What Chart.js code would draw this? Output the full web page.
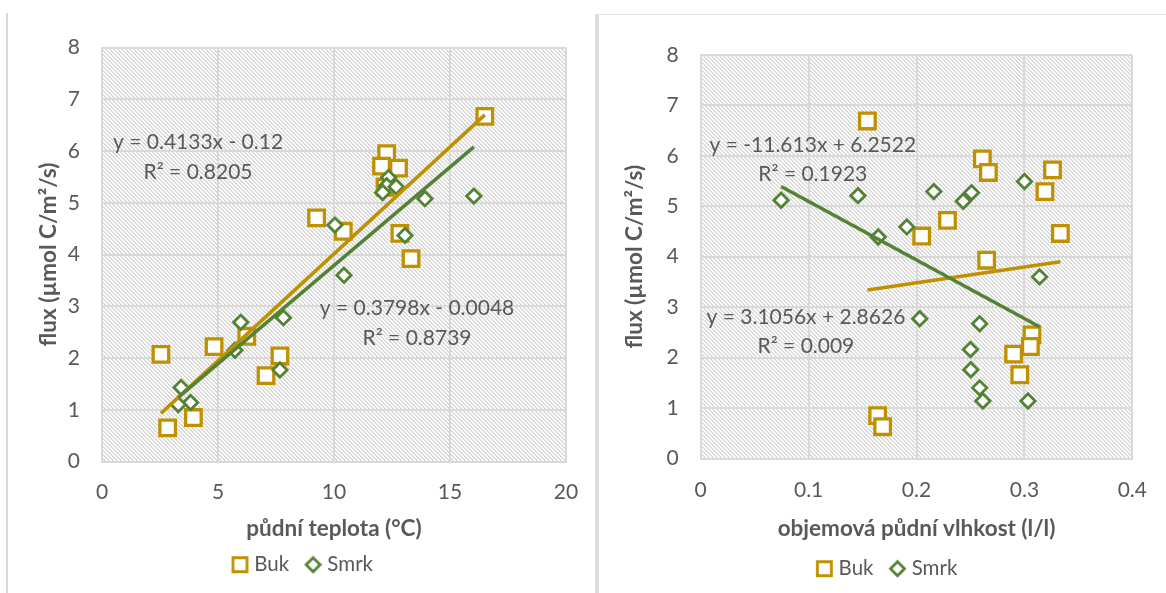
<!DOCTYPE html>
<html lang="cs">
<head>
<meta charset="utf-8">
<title>flux - půdní teplota a vlhkost</title>
<script src="https://cdn.jsdelivr.net/npm/chart.js"></script>
<style>
  body { margin: 0; background: #fff; width: 1166px; height: 593px; overflow: hidden; position: relative; }
  #ramecekTeplota { position: absolute; left: 6px; top: 13px; width: 2px; height: 580px; background: #d9d9d9; }
  #ramecekVlhkost { position: absolute; left: 595px; top: 14px; width: 571px; height: 579px; box-sizing: border-box; border-left: 4px solid #dcdcdc; border-top: 1px solid #e6e6e6; }
  canvas { position: absolute; }
  #grafTeplota { left: 9px; top: 13px; }
  #grafVlhkost { left: 601px; top: 14px; }
</style>
</head>
<body>
<div id="ramecekTeplota"></div>
<div id="ramecekVlhkost"></div>
<canvas id="grafTeplota" width="589" height="581"></canvas>
<canvas id="grafVlhkost" width="565" height="580"></canvas>
<script>
// půdní teplota (°C) x flux
const bukTeplotaX = [16.5, 12.27, 12.05, 12.78, 12.2, 9.25, 10.4, 12.84, 13.32, 2.54, 4.83, 6.24, 7.67, 7.07, 3.94, 2.83];
const bukTeplotaY = [6.67, 5.95, 5.71, 5.67, 5.3, 4.71, 4.45, 4.41, 3.92, 2.07, 2.22, 2.42, 2.04, 1.66, 0.85, 0.65];
const smrkTeplotaX = [12.35, 12.27, 12.68, 12.1, 13.92, 16.03, 10.04, 13.06, 10.43, 5.98, 7.82, 5.73, 7.67, 3.41, 3.82, 3.29];
const smrkTeplotaY = [5.49, 5.33, 5.31, 5.2, 5.08, 5.13, 4.57, 4.37, 3.6, 2.69, 2.78, 2.15, 1.77, 1.43, 1.14, 1.1];

// objemová půdní vlhkost (l/l) x flux
const bukVlhkostX = [0.1545, 0.261, 0.2666, 0.326, 0.319, 0.2287, 0.2048, 0.3333, 0.265, 0.307, 0.3055, 0.29, 0.2957, 0.164, 0.1686];
const bukVlhkostY = [6.69, 5.94, 5.67, 5.72, 5.29, 4.72, 4.41, 4.46, 3.93, 2.45, 2.22, 2.07, 1.66, 0.85, 0.63];
const smrkVlhkostX = [0.0745, 0.1457, 0.1645, 0.191, 0.216, 0.251, 0.2433, 0.3, 0.314, 0.203, 0.2585, 0.25, 0.2503, 0.2585, 0.2615, 0.3033];
const smrkVlhkostY = [5.12, 5.21, 4.39, 4.59, 5.29, 5.27, 5.1, 5.49, 3.6, 2.77, 2.67, 2.16, 1.76, 1.4, 1.14, 1.14];

// koncové body spojnic trendu
const trendBukTeplotaX = [2.54, 16.5];
const trendBukTeplotaY = [0.93, 6.7];
const trendSmrkTeplotaX = [3.29, 16.03];
const trendSmrkTeplotaY = [1.24, 6.08];
const trendBukVlhkostX = [0.1545, 0.3333];
const trendBukVlhkostY = [3.34, 3.9];
const trendSmrkVlhkostX = [0.0745, 0.314];
const trendSmrkVlhkostY = [5.39, 2.61];

// rovnice trendu a kde stojí (v jednotkách os)
const rovniceTeplota = ['y = 0.4133x - 0.12', 'R² = 0.8205', 'y = 0.3798x - 0.0048', 'R² = 0.8739'];
const rovniceTeplotaX = [4.14, 4.14, 13.58, 13.58];
const rovniceTeplotaY = [6.18, 5.6, 2.96, 2.39];
const rovniceVlhkost = ['y = -11.613x + 6.2522', 'R² = 0.1923', 'y = 3.1056x + 2.8626', 'R² = 0.009'];
const rovniceVlhkostX = [0.1039, 0.1039, 0.0975, 0.0975];
const rovniceVlhkostY = [6.2, 5.64, 2.8, 2.235];

const barvaBuk = '#BF9000';
const barvaSmrk = '#548235';
const barvaTextu = '#595959';
const barvaMrizky = '#d9d9d9';
const pismo = 'Lato';

const ikonaBuk = ikona('rect', barvaBuk);
const ikonaSmrk = ikona('rectRot', barvaSmrk);

const pluginPozadi = {
  id: 'pozadi',
  beforeDraw(chart) {
    const {ctx, chartArea: a} = chart;
    ctx.save();
    ctx.fillStyle = ctx.createPattern(srafovani(), 'repeat');
    ctx.fillRect(a.left, a.top, a.right - a.left, a.bottom - a.top);
    ctx.restore();
  }
};

const pluginRovnice = {
  id: 'rovnice',
  afterDatasetsDraw(chart, args, opts) {
    const {ctx, scales: {x, y}} = chart;
    ctx.save();
    ctx.font = `21px ${pismo}`;
    ctx.fillStyle = barvaTextu;
    ctx.textAlign = 'center';
    ctx.textBaseline = 'middle';
    opts.texty.forEach((t, i) => {
      ctx.fillText(t, x.getPixelForValue(opts.x[i]), y.getPixelForValue(opts.y[i]));
    });
    ctx.restore();
  }
};

// posune legendu, aby seděla jako v Excelu
const pluginPosunLegendy = {
  id: 'posunLegendy',
  afterLayout(chart, args, opts) {
    const l = chart.legend;
    l.left += opts.dx; l.right += opts.dx;
    l.top += opts.dy; l.bottom += opts.dy;
  }
};

vytvorGraf('grafTeplota', {
  buk: body(bukTeplotaX, bukTeplotaY),
  smrk: body(smrkTeplotaX, smrkTeplotaY),
  trendBuk: body(trendBukTeplotaX, trendBukTeplotaY),
  trendSmrk: body(trendSmrkTeplotaX, trendSmrkTeplotaY),
  xMax: 20, xKrok: 5,
  xTitul: 'půdní teplota (°C)',
  padding: {left: 0, top: 32.5, right: 32, bottom: 0},
  sirkaY: 93, titulY: 26.2, vyskaX: 82, ticksX: 18,
  rovnice: {texty: rovniceTeplota, x: rovniceTeplotaX, y: rovniceTeplotaY},
  posun: {dx: 17, dy: -9}
});

vytvorGraf('grafVlhkost', {
  buk: body(bukVlhkostX, bukVlhkostY),
  smrk: body(smrkVlhkostX, smrkVlhkostY),
  trendBuk: body(trendBukVlhkostX, trendBukVlhkostY),
  trendSmrk: body(trendSmrkVlhkostX, trendSmrkVlhkostY),
  xMax: 0.4, xKrok: 0.1,
  xTitul: 'objemová půdní vlhkost (l/l)',
  padding: {left: 0, top: 40.9, right: 25.3, bottom: 0},
  sirkaY: 99.7, titulY: 20.2, vyskaX: 85, ticksX: 19,
  rovnice: {texty: rovniceVlhkost, x: rovniceVlhkostX, y: rovniceVlhkostY},
  posun: {dx: 18, dy: -5}
});


function body(xs, ys) {
  return xs.map((x, i) => ({x, y: ys[i]}));
}

function ikona(tvar, barva) {
  const c = document.createElement('canvas');
  c.width = 19;
  c.height = 19;
  const g = c.getContext('2d');
  g.strokeStyle = barva;
  g.fillStyle = '#fff';
  g.lineWidth = 2.8;
  g.beginPath();
  if (tvar === 'rect') {
    g.rect(2.5, 2.5, 14, 14);
  } else {
    g.moveTo(9.5, 2.5); g.lineTo(16.5, 9.5); g.lineTo(9.5, 16.5); g.lineTo(2.5, 9.5); g.closePath();
  }
  g.fill();
  g.stroke();
  return c;
}

function srafovani() {
  const c = document.createElement('canvas');
  c.width = 4;
  c.height = 4;
  const g = c.getContext('2d');
  g.fillStyle = '#fff';
  g.fillRect(0, 0, 4, 4);
  g.fillStyle = '#dadada';
  for (let i = 0; i < 4; i++) {
    g.fillRect(i, i, 1, 1);
    g.fillRect((i + 1) % 4, i, 1, 1);
  }
  return c;
}

function vytvorGraf(id, n) {
  const tickFont = {family: pismo, size: 21};
  const titulFont = {family: pismo, size: 22.5, weight: 'bold'};
  new Chart(document.getElementById(id), {
    type: 'scatter',
    data: {
      datasets: [
        {label: 'Buk', data: n.buk, order: 3, pointStyle: 'rect', pointRadius: 11, pointHoverRadius: 11,
          borderColor: barvaBuk, backgroundColor: '#fff', borderWidth: 3.3},
        {label: 'Smrk', data: n.smrk, order: 2, pointStyle: 'rectRot', pointRadius: 7.2, pointHoverRadius: 7.2,
          borderColor: barvaSmrk, backgroundColor: '#fff', borderWidth: 2.8},
        {label: 'trend Buk', data: n.trendBuk, order: 1, showLine: true, pointRadius: 0,
          borderColor: barvaBuk, borderWidth: 3.5},
        {label: 'trend Smrk', data: n.trendSmrk, order: 0, showLine: true, pointRadius: 0,
          borderColor: barvaSmrk, borderWidth: 3.5}
      ]
    },
    options: {
      responsive: false,
      animation: false,
      layout: {padding: n.padding},
      scales: {
        x: {
          min: 0, max: n.xMax,
          ticks: {stepSize: n.xKrok, padding: n.ticksX, color: barvaTextu, font: tickFont},
          grid: {color: barvaMrizky, lineWidth: 2, drawTicks: false},
          border: {color: barvaMrizky, width: 2},
          title: {display: true, text: n.xTitul, color: barvaTextu, font: titulFont, padding: {top: 0, bottom: 1.7}},
          afterFit(scale) { scale.height = n.vyskaX; }
        },
        y: {
          min: 0, max: 8,
          ticks: {stepSize: 1, padding: 22, color: barvaTextu, font: tickFont},
          grid: {color: barvaMrizky, lineWidth: 2, drawTicks: false},
          border: {color: barvaMrizky, width: 2},
          title: {display: true, text: 'flux (µmol C/m²/s)', color: barvaTextu, font: titulFont, padding: {top: n.titulY, bottom: 0}},
          afterFit(scale) { scale.width = n.sirkaY; }
        }
      },
      plugins: {
        legend: {
          position: 'bottom',
          labels: {
            usePointStyle: true,
            pointStyleWidth: 8,
            padding: 20,
            color: barvaTextu,
            font: {family: pismo, size: 20.5},
            filter: item => item.datasetIndex < 2,
            sort: (a, b) => a.datasetIndex - b.datasetIndex,
            generateLabels(chart) {
              const polozky = Chart.defaults.plugins.legend.labels.generateLabels(chart);
              polozky.forEach(p => { p.pointStyle = p.datasetIndex === 0 ? ikonaBuk : ikonaSmrk; });
              return polozky;
            }
          }
        },
        tooltip: {enabled: false},
        rovnice: n.rovnice,
        posunLegendy: n.posun
      }
    },
    plugins: [pluginPozadi, pluginRovnice, pluginPosunLegendy]
  });
}
</script>
</body>
</html>
